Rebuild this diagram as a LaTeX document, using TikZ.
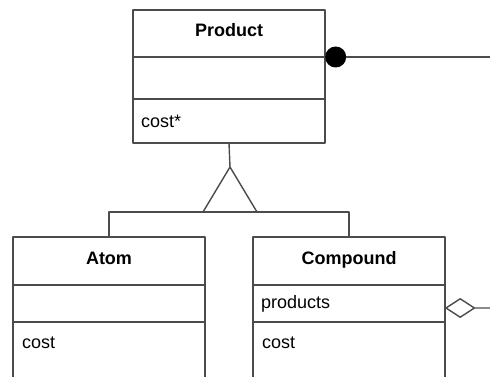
\documentclass[tikz,border=0pt]{standalone}
\usepackage{fontspec}
\setmainfont{Liberation Sans}
\usetikzlibrary{positioning,shapes.geometric}

\begin{document}
\begin{tikzpicture}[x=1pt, y=-1pt, line cap=round, line join=round,
  line/.style={draw=black!70, line width=1.4pt},
  box/.style={line, minimum width=192pt, inner sep=0pt, outer sep=0pt},
  title/.style={box, font=\fontsize{18}{20}\selectfont\bfseries, text height=13pt, text depth=7pt},
  entry/.style={box, font=\fontsize{18}{20}\selectfont, text width=176pt, align=left},
  txt/.style={inner sep=0pt, font=\fontsize{18}{20}\selectfont},
  node distance=0pt]

% frame
\useasboundingbox (0,0) rectangle (490,377);
\clip (0,0) rectangle (490,377);

% Product
\node[title, minimum height=47] (product) at (229,33.5) {Product};
\node[box, minimum height=42, below=of product] (productattr) {};
\node[entry, minimum height=44, below=of productattr] (productops) {cost*};

% Atom
\node[title, minimum height=48] (atom) at (109,261) {Atom};
\node[box, minimum height=37, below=of atom] (atomattr) {};
\node[box, minimum height=80, below=of atomattr] (atomops) {};
\node[txt, anchor=west] (atomcost) at (22,343) {cost};

% Compound
\node[title, minimum height=48] (compound) at (349,261) {Compound};
\node[entry, minimum height=37, below=of compound] (compoundattr) {products};
\node[box, minimum height=80, below=of compoundattr] (compoundops) {};
\node[txt, anchor=west] (compoundcost) at (262,343) {cost};

% generalization
\coordinate (apex) at (230,167);
\coordinate (baseL) at (203,212);
\coordinate (baseR) at (257,212);
\draw[line] (productops.south) -- (apex);
\draw[line] (apex) -- (baseL) -- (baseR) -- cycle;
\draw[line] (atom.north) -- (atom.north |- baseL) -- (compound.north |- baseL) -- (compound.north);

% composition end
\node[circle, fill=black, minimum size=21pt, inner sep=0pt, anchor=west] (dot) at (productattr.north east) {};
\coordinate (rim) at (490,0);
\draw[line] (dot.east) -- (dot.east -| rim);

% aggregation end
\node[diamond, line, fill=white, minimum width=29pt, minimum height=19pt, inner sep=0pt, anchor=west] (diam) at (445,308) {};
\draw[line, draw=black!45] (diam.east) -- (diam.east -| rim);

\end{tikzpicture}
\end{document}
